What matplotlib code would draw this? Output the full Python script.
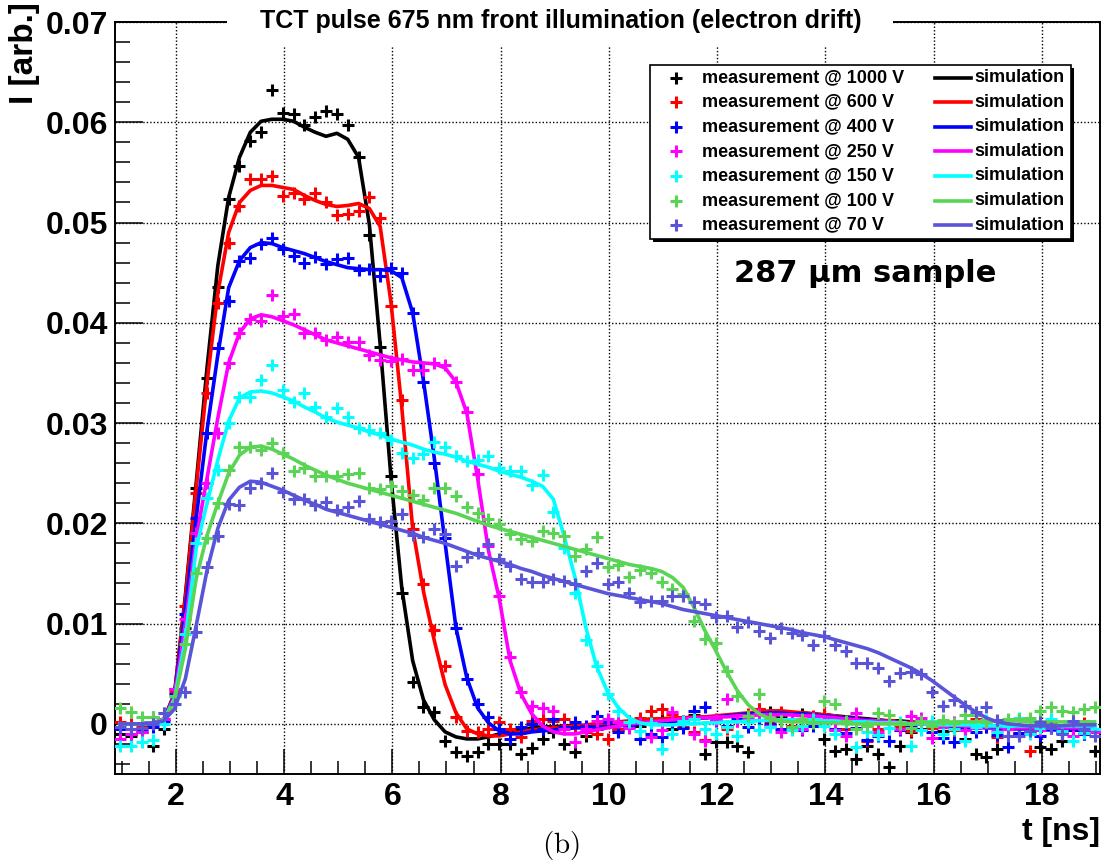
import numpy as np
import matplotlib
matplotlib.use('Agg')
import matplotlib.pyplot as plt
from matplotlib.patches import Rectangle
from matplotlib.lines import Line2D
from matplotlib.ticker import MultipleLocator

W, H = 1110, 866

# sample times: 0.2 ns bins, centres 0.975 ... 18.975 ns
t_ns = np.round(0.975 + 0.2 * np.arange(91), 3)

voltages = ['1000', '600', '400', '250', '150', '100', '70']
colors = ['#000000', '#ff0000', '#0000ff', '#ff00ff', '#00ffff', '#59d454', '#5954d8']

# all currents in units of 1e-3 arb.
meas_1000 = [-1.0, -1.2, -0.8, -2.2, -0.5, 3.5, 9.6, 23.5, 34.5, 43.6,
             52.3, 55.6, 58.1, 59.0, 63.2, 60.9, 60.8, 59.7, 60.5, 61.1,
             60.8, 59.7, 56.5, 48.8, 37.6, 24.7, 13.1, 4.2, 1.7, 1.2,
             -1.7, -2.8, -3.2, -2.8, -2.0, -2.0, -2.0, -3.0, -2.4, -1.5,
             -0.8, -2.0, -2.8, -1.2, -0.5, 0.2, -0.6, 0.3, -0.2, 0.4,
             0.6, -0.5, 0.3, 0.9, -3.0, -1.8, -1.8, -2.2, -2.8, 1.5,
             1.2, 0.8, -0.3, 1.0, 0.5, -1.5, -2.7, -2.5, -3.5, -2.2,
             -3.0, -4.3, -2.2, -0.8, -0.5, 0.2, -0.7, -0.3, -1.5, -3.0,
             -3.3, -2.5, -0.5, -1.0, -0.4, -2.3, -2.5, -1.7, -0.6, -1.0,
             -2.7]
meas_600 = [0.2, 0.0, -0.3, 0.1, 0.5, 3.2, 11.8, 23.0, 33.0, 42.0,
            48.0, 51.6, 54.3, 54.3, 54.6, 52.6, 52.9, 52.3, 52.9, 52.0,
            50.8, 50.9, 51.2, 52.5, 50.5, 41.7, 32.3, 19.4, 13.9, 9.4,
            5.8, 0.7, -0.7, -0.8, -0.5, 0.2, -0.5, -1.3, 0.3, 0.5,
            0.3, 0.5, -0.3, -0.8, -1.0, -1.5, -0.5, 0.2, 0.6, 1.3,
            1.5, 1.0, -0.3, -0.8, -1.6, 0.5, -0.5, 0.3, 1.0, 1.5,
            0.3, 1.2, -0.2, 0.5, 0.8, 1.0, 0.3, -0.5, 0.2, -1.7,
            -0.5, 0.4, -0.3, -0.7, 0.2, -0.4, 0.3, -0.6, -0.2, 0.5,
            -0.3, -1.3, -0.5, -0.9, -2.7, -0.4, 0.2, -0.8, -0.3, 0.1,
            -0.5]
meas_400 = [-0.5, -1.0, -0.5, -0.3, 0.3, 3.0, 11.0, 20.5, 29.0, 37.5,
            42.2, 46.2, 46.5, 47.9, 48.5, 47.4, 46.7, 46.0, 46.6, 45.9,
            46.4, 46.5, 45.3, 45.4, 44.7, 45.5, 45.0, 41.0, 34.1, 26.0,
            18.5, 9.6, 4.5, 2.0, 0.7, -0.5, -1.5, -0.3, 0.0, -0.5,
            0.5, -0.3, 0.2, -0.2, 0.8, 0.2, -0.8, -0.3, -1.5, -1.0,
            -1.3, 0.2, -0.4, 1.3, 1.7, 0.3, -0.2, 0.5, -0.3, 0.4,
            0.0, -0.5, 0.3, -0.6, -0.2, 0.4, -0.5, -0.9, -0.4, -1.6,
            -1.2, -1.7, -0.6, -0.3, 0.1, -0.8, -1.4, -1.8, -0.5, -0.8,
            -0.3, -1.1, -2.3, -0.9, -0.6, -1.2, -0.4, -0.9, -0.5, -1.0,
            -0.8]
meas_250 = [-1.5, -1.0, -0.8, 0.7, 0.5, 3.5, 10.5, 19.0, 24.0, 29.0,
            36.0, 39.0, 40.4, 40.2, 42.8, 40.7, 40.9, 39.0, 39.0, 38.3,
            38.6, 38.1, 38.1, 36.8, 36.3, 36.2, 36.4, 35.3, 35.3, 36.0,
            35.8, 34.1, 31.1, 24.9, 17.7, 12.8, 6.7, 3.2, 1.8, 1.6,
            1.3, -0.5, -1.8, -0.5, 0.3, 0.5, 0.2, -0.4, 0.1, -1.3,
            -0.6, 1.2, 0.3, -1.0, -1.7, 0.4, 2.5, 0.3, 0.6, 1.0,
            -0.2, -0.8, 0.5, -0.5, 0.6, 0.2, -0.6, -1.2, 1.1, -0.2,
            -0.8, 0.3, -0.5, 0.8, 0.6, -1.4, -0.3, 0.2, -0.6, -0.4,
            0.1, -0.7, -0.5, 0.4, -0.9, -0.6, -0.3, -0.8, -1.2, -0.5,
            -0.8]
meas_150 = [-2.2, -2.2, -1.8, -1.6, 0.0, 2.8, 9.0, 18.0, 22.5, 25.3,
            30.0, 32.6, 32.6, 34.3, 35.8, 33.3, 32.1, 33.0, 31.6, 30.6,
            31.5, 30.6, 29.5, 29.3, 29.0, 28.3, 27.0, 26.5, 26.9, 28.1,
            27.6, 26.7, 26.2, 26.3, 26.7, 25.5, 25.2, 25.2, 23.8, 24.8,
            21.1, 17.5, 13.1, 8.4, 5.8, 3.0, 1.3, 0.2, -0.7, 0.1,
            -2.5, -1.0, 0.3, 0.5, -0.5, -1.0, -0.3, -1.2, 0.2, -0.6,
            -0.3, 0.3, -0.6, -0.2, 0.5, -0.2, -1.0, 0.2, -2.3, -0.8,
            -1.1, -0.4, 0.2, -2.2, -0.6, 0.3, -1.0, -0.5, -1.7, -0.3,
            0.4, -0.8, -0.2, 0.6, -1.0, -0.4, 0.5, -0.7, -1.7, -0.9,
            -0.5]
meas_100 = [1.6, 1.2, 0.7, 0.7, 1.1, 2.8, 8.0, 15.0, 18.5, 22.0,
            25.3, 27.6, 27.6, 27.3, 28.0, 27.0, 25.2, 25.5, 24.7, 24.7,
            24.7, 24.9, 25.0, 23.5, 23.4, 23.7, 23.2, 22.8, 22.3, 23.5,
            23.5, 22.7, 21.6, 21.0, 20.4, 19.9, 18.9, 18.4, 18.2, 19.2,
            19.0, 18.7, 16.7, 17.4, 18.6, 15.6, 15.8, 14.6, 15.3, 15.0,
            14.1, 13.5, 13.0, 10.3, 8.5, 8.1, 5.3, 2.8, 0.8, 3.0,
            0.6, 0.3, -0.3, 0.5, 0.1, 2.3, 2.0, 0.3, -0.5, -0.2,
            1.1, 0.9, 0.0, -0.4, 0.3, -0.2, 0.4, 0.1, 0.9, 0.9,
            0.2, 0.3, 0.5, 0.5, 0.6, 1.3, 1.7, 1.3, 1.2, 1.5,
            1.7]
meas_70 = [-0.3, -0.5, -0.4, 0.0, 1.1, 2.0, 3.2, 9.2, 15.6, 18.7,
           21.9, 21.8, 23.5, 24.0, 25.0, 23.1, 22.4, 22.4, 21.8, 22.1,
           21.3, 21.6, 22.2, 20.4, 20.1, 20.2, 20.9, 18.8, 18.6, 19.4,
           18.9, 15.7, 16.6, 17.0, 17.9, 16.4, 15.7, 14.4, 14.1, 14.1,
           14.4, 14.2, 13.9, 15.2, 16.0, 13.9, 14.1, 13.1, 12.2, 12.3,
           12.3, 12.8, 12.8, 12.2, 12.0, 10.7, 10.8, 9.7, 10.2, 9.3,
           8.6, 9.6, 9.1, 8.9, 7.9, 8.8, 7.9, 7.3, 6.1, 6.1,
           5.6, 4.3, 5.1, 5.2, 5.0, 3.2, 1.8, 2.4, 1.8, 1.2,
           1.7, 0.4, -1.2, -1.2, -0.7, 0.2, -0.4, -1.0, 0.3, -0.5,
           -1.2]

sim_1000 = [0.0, 0.0, 0.0, 0.1, 0.4, 3.0, 12.8, 24.0, 35.5, 45.7,
            52.5, 56.5, 59.0, 60.1, 60.3, 60.3, 60.1, 59.5, 59.0, 58.6,
            58.9, 58.3, 56.5, 49.8, 37.8, 24.5, 13.5, 6.3, 2.4, 0.4,
            -0.8, -1.3, -1.5, -1.5, -1.3, -1.0, -0.8, -0.6, -0.4, -0.3,
            -0.3, -0.2, -0.2, -0.2, -0.1, -0.1, 0.0, 0.1, 0.1, 0.2,
            0.2, 0.3, 0.4, 0.5, 0.6, 0.7, 0.8, 0.9, 1.0, 1.1,
            1.2, 1.2, 1.1, 1.1, 1.0, 0.9, 0.8, 0.7, 0.6, 0.5,
            0.4, 0.3, 0.3, 0.2, 0.1, 0.1, 0.0, -0.1, -0.1, -0.2,
            -0.2, -0.3, -0.3, -0.3, -0.3, -0.3, -0.2, -0.2, -0.2, -0.1,
            -0.1]
sim_600 = [0.0, 0.0, 0.0, 0.1, 0.4, 3.0, 12.5, 23.5, 34.0, 43.0,
           49.0, 52.0, 53.2, 53.7, 53.7, 53.5, 53.3, 52.7, 52.2, 51.8,
           51.6, 51.7, 51.9, 51.4, 49.6, 42.0, 31.5, 19.5, 13.2, 8.3,
           3.9, 1.1, -0.5, -1.0, -1.2, -1.2, -1.0, -0.8, -0.6, -0.5,
           -0.4, -0.3, -0.2, -0.1, 0.0, 0.1, 0.2, 0.3, 0.4, 0.5,
           0.5, 0.6, 0.6, 0.7, 0.7, 0.8, 0.9, 1.0, 1.1, 1.2,
           1.3, 1.3, 1.2, 1.1, 1.0, 0.9, 0.8, 0.6, 0.5, 0.4,
           0.3, 0.3, 0.2, 0.1, 0.1, 0.0, 0.0, -0.1, -0.1, -0.2,
           -0.2, -0.3, -0.3, -0.3, -0.4, -0.4, -0.4, -0.3, -0.3, -0.3,
           -0.3]
sim_400 = [0.0, 0.0, 0.0, 0.1, 0.4, 2.8, 11.5, 20.5, 29.3, 36.8,
           43.5, 46.2, 47.5, 48.0, 47.9, 47.5, 47.2, 46.9, 46.5, 46.1,
           45.8, 45.5, 45.4, 45.3, 45.3, 45.2, 44.5, 41.0, 34.2, 26.5,
           18.0, 9.6, 4.6, 1.6, 0.1, -0.7, -1.0, -1.0, -0.8, -0.7,
           -0.6, -0.5, -0.4, -0.4, -0.3, -0.3, -0.2, -0.1, 0.0, 0.1,
           0.2, 0.3, 0.4, 0.5, 0.6, 0.7, 0.8, 0.9, 1.0, 1.0,
           1.1, 1.1, 1.0, 1.0, 0.9, 0.8, 0.7, 0.6, 0.5, 0.4,
           0.3, 0.2, 0.1, 0.0, 0.0, -0.1, -0.2, -0.2, -0.3, -0.3,
           -0.4, -0.4, -0.5, -0.5, -0.5, -0.6, -0.6, -0.6, -0.6, -0.6,
           -0.6]
sim_250 = [0.0, 0.0, 0.0, 0.1, 0.4, 2.7, 10.0, 18.5, 24.5, 30.5,
           36.0, 39.0, 40.4, 40.8, 40.6, 40.2, 39.8, 39.3, 38.8, 38.3,
           38.0, 37.7, 37.4, 37.1, 36.8, 36.5, 36.3, 36.1, 36.0, 35.9,
           35.5, 34.1, 31.0, 24.5, 17.3, 12.5, 6.3, 3.0, 1.0, -0.2,
           -0.8, -1.0, -1.0, -0.8, -0.6, -0.4, -0.2, 0.0, 0.1, 0.2,
           0.3, 0.4, 0.5, 0.6, 0.6, 0.7, 0.7, 0.8, 0.8, 0.9,
           0.9, 0.9, 0.9, 0.8, 0.8, 0.7, 0.6, 0.5, 0.4, 0.3,
           0.3, 0.2, 0.1, 0.0, 0.0, -0.1, -0.1, -0.2, -0.2, -0.3,
           -0.3, -0.3, -0.4, -0.4, -0.4, -0.4, -0.4, -0.4, -0.4, -0.4,
           -0.4]
sim_150 = [0.0, 0.0, 0.0, 0.1, 0.4, 2.5, 8.5, 17.5, 22.0, 26.3,
           30.2, 32.5, 33.1, 33.2, 33.0, 32.6, 32.2, 31.6, 31.1, 30.5,
           30.1, 29.8, 29.5, 29.1, 28.8, 28.4, 28.1, 27.8, 27.4, 27.1,
           26.9, 26.6, 26.2, 25.9, 25.6, 25.2, 24.9, 24.6, 24.2, 23.7,
           22.4, 18.7, 14.6, 9.6, 5.7, 3.2, 1.6, 0.6, 0.1, -0.1,
           -0.1, -0.1, 0.0, 0.0, 0.1, 0.1, 0.2, 0.2, 0.3, 0.3,
           0.4, 0.4, 0.4, 0.4, 0.3, 0.3, 0.3, 0.2, 0.2, 0.2,
           0.1, 0.1, 0.1, 0.0, 0.0, 0.0, -0.1, -0.1, -0.1, -0.1,
           -0.2, -0.2, -0.2, -0.2, -0.2, -0.2, -0.2, -0.2, -0.2, -0.2,
           -0.2]
sim_100 = [0.0, 0.0, 0.0, 0.1, 0.4, 2.3, 7.5, 14.5, 18.8, 22.0,
           25.0, 26.8, 27.6, 27.7, 27.4, 26.9, 26.4, 25.8, 25.3, 24.8,
           24.4, 24.0, 23.7, 23.4, 23.1, 22.8, 22.5, 22.2, 21.9, 21.6,
           21.3, 21.0, 20.6, 20.2, 19.8, 19.5, 19.2, 18.9, 18.6, 18.3,
           18.0, 17.7, 17.4, 17.1, 16.8, 16.5, 16.2, 15.9, 15.7, 15.5,
           15.2, 14.6, 13.6, 11.6, 9.3, 7.3, 5.2, 3.3, 1.9, 1.0,
           0.5, 0.3, 0.2, 0.2, 0.1, 0.1, 0.1, 0.0, 0.0, 0.0,
           0.0, 0.0, 0.0, 0.0, 0.1, 0.1, 0.1, 0.2, 0.2, 0.2,
           0.3, 0.3, 0.3, 0.3, 0.2, 0.2, 0.2, 0.2, 0.2, 0.2,
           0.2]
sim_70 = [0.0, 0.0, 0.0, 0.1, 0.3, 1.5, 4.5, 9.8, 15.3, 19.5,
          22.3, 23.6, 24.2, 24.1, 23.7, 23.3, 22.8, 22.3, 21.9, 21.4,
          21.1, 20.8, 20.5, 20.2, 19.9, 19.6, 19.3, 19.0, 18.6, 18.3,
          18.0, 17.6, 17.2, 16.8, 16.5, 16.2, 15.9, 15.5, 15.2, 14.8,
          14.5, 14.2, 13.9, 13.6, 13.3, 13.0, 12.8, 12.6, 12.4, 12.2,
          12.0, 11.7, 11.4, 11.2, 11.0, 10.8, 10.6, 10.4, 10.2, 10.0,
          9.8, 9.6, 9.4, 9.1, 8.9, 8.7, 8.4, 8.1, 7.8, 7.5,
          7.1, 6.6, 6.1, 5.6, 5.0, 4.3, 3.5, 2.7, 1.9, 1.2,
          0.6, 0.2, 0.0, -0.1, -0.2, -0.2, -0.2, -0.2, -0.1, -0.1,
          -0.1]

measurements = [meas_1000, meas_600, meas_400, meas_250, meas_150, meas_100, meas_70]
simulations = [sim_1000, sim_600, sim_400, sim_250, sim_150, sim_100, sim_70]

y_ticks = [0.0, 0.01, 0.02, 0.03, 0.04, 0.05, 0.06, 0.07]
y_labels = ['0', '0.01', '0.02', '0.03', '0.04', '0.05', '0.06', '0.07']
x_ticks = [2, 4, 6, 8, 10, 12, 14, 16, 18]

plt.rcParams['font.family'] = ['Liberation Sans', 'DejaVu Sans']
plt.rcParams['font.weight'] = 'bold'
plt.rcParams['mathtext.fontset'] = 'cm'

MS, MEW, LW = 8, 2.2, 2.6


def fxy(px, py):
    """pixel position (from top-left) -> figure fraction"""
    return px / W, 1 - py / H


fig = plt.figure(figsize=(W / 100, H / 100), dpi=100)
fig.patch.set_facecolor('white')
ax = fig.add_axes([115 / W, 1 - 774 / H, 985 / W, 752 / H])

for c, m, s in zip(colors, measurements, simulations):
    ax.plot(t_ns, np.array(m) * 1e-3, ls='none', marker='+', ms=MS, mew=MEW,
            color=c, zorder=3)
    ax.plot(t_ns, np.array(s) * 1e-3, lw=LW, color=c, zorder=3,
            solid_joinstyle='round')

ax.set_xlim(0.875, 19.075)
ax.set_ylim(-0.005, 0.07)
ax.set_xticks(x_ticks, labels=[str(v) for v in x_ticks])
ax.set_yticks(y_ticks, labels=y_labels)
ax.xaxis.set_minor_locator(MultipleLocator(0.5))
ax.yaxis.set_minor_locator(MultipleLocator(0.002))
ax.tick_params(which='both', direction='in', top=False, right=False,
               width=1.1, color='k', labelsize=23)
ax.tick_params(axis='x', which='major', length=18, pad=6)
ax.tick_params(axis='x', which='minor', length=9.5)
ax.tick_params(axis='y', which='major', length=20, pad=5)
ax.tick_params(axis='y', which='minor', length=11)
ax.grid(True, which='major', color='k', linestyle=(0, (1, 1.5)), linewidth=1.0)
for sp in ax.spines.values():
    sp.set_linewidth(1.4)

# title in its white box, covering the frame
x0, y0 = fxy(227, 47)
x1, y1 = fxy(893, 0)
fig.add_artist(Rectangle((x0, y0), x1 - x0, y1 - y0, transform=fig.transFigure,
                         facecolor='white', edgecolor='none', zorder=5))
fig.text(*fxy(561, 28), 'TCT pulse 675 nm front illumination (electron drift)',
         ha='center', va='baseline', fontsize=18, fontweight='bold', zorder=6)

# axis titles
fig.text(*fxy(24, 2), 'I [arb.]', rotation=90, ha='center', va='top',
         fontsize=24, fontweight='bold')
fig.text(*fxy(1100, 840), 't [ns]', ha='right', va='baseline',
         fontsize=23, fontweight='bold')
fig.text(*fxy(561, 846), r'$\mathrm{(b)}$', ha='center', va='center', fontsize=21)

# legend drawn by hand, ROOT style with a black shadow
lx0, lx1, ly0, ly1 = 649.5, 1071, 64.8, 238.6
sx, sy = fxy(lx0 + 3, ly1 + 3)
fig.add_artist(Rectangle((sx, sy), (lx1 - lx0) / W, (ly1 - ly0) / H,
                         transform=fig.transFigure, facecolor='black',
                         edgecolor='none', zorder=8))
bx, by = fxy(lx0, ly1)
fig.add_artist(Rectangle((bx, by), (lx1 - lx0) / W, (ly1 - ly0) / H,
                         transform=fig.transFigure, facecolor='white',
                         edgecolor='black', lw=1.2, zorder=9))
for i, (v, c) in enumerate(zip(voltages, colors)):
    ry = 77.5 + 24.6 * i
    mx, my = fxy(675.7, ry)
    fig.add_artist(Line2D([mx], [my], marker='+', ms=MS, mew=MEW, color=c,
                          transform=fig.transFigure, zorder=10))
    fig.text(*fxy(702, ry), f'measurement @ {v} V', ha='left', va='center',
             fontsize=13, fontweight='bold', zorder=10)
    ax_, ay_ = fxy(935, ry)
    bx_, _ = fxy(971, ry)
    fig.add_artist(Line2D([ax_, bx_], [ay_, ay_], lw=LW, color=c,
                          transform=fig.transFigure, zorder=10))
    fig.text(*fxy(974, ry), 'simulation', ha='left', va='center',
             fontsize=13, fontweight='bold', zorder=10)

fig.text(*fxy(865, 274), '287 µm sample', ha='center', va='center',
         fontsize=22, fontweight='bold', family='DejaVu Sans', zorder=10)

fig.savefig('out.png', dpi=100, facecolor='white')
